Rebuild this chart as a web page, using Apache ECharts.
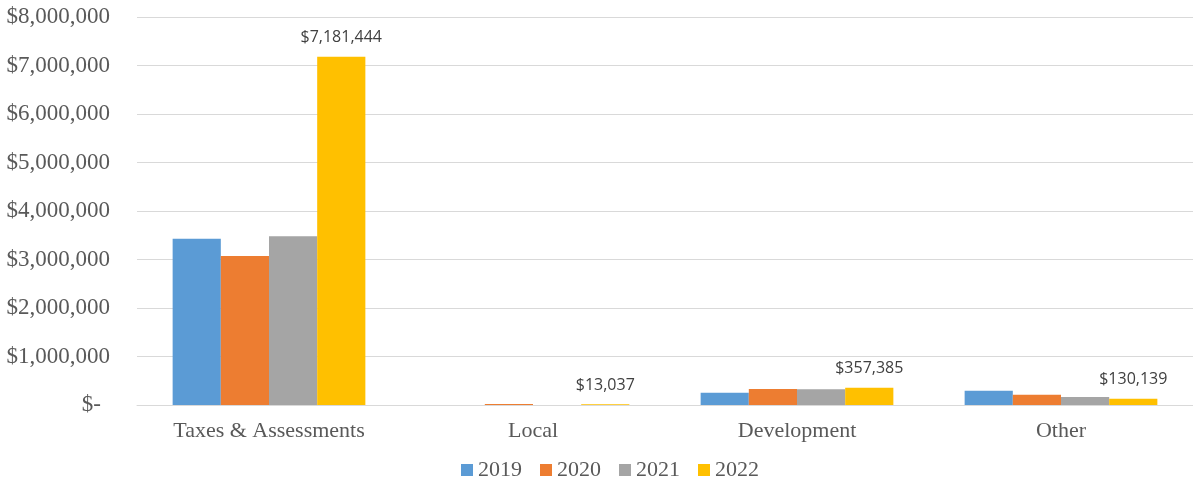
<!DOCTYPE html>
<html>
<head>
<meta charset="utf-8">
<script src="https://cdn.jsdelivr.net/npm/echarts@6/dist/echarts.min.js"></script>
<style>
	html, body { margin: 0; padding: 0; background: #fff; }
	#chart { width: 1193px; height: 487px; }
</style>
</head>
<body>
<div id="chart"></div>
<script>
// chart data
var categories = ['Taxes & Assessments', 'Local', 'Development', 'Other'];
var years = ['2019', '2020', '2021', '2022'];
var v2019 = [3430000, 0, 255000, 295000];
var v2020 = [3070000, 20000, 330000, 210000];
var v2021 = [3480000, 0, 325000, 165000];
var v2022 = [7181444, 13037, 357385, 130139];
var colors = ['#5b9bd5', '#ed7d31', '#a5a5a5', '#ffc000'];

function money(v) {
	return '$' + Math.round(v).toString().replace(/\B(?=(\d{3})+(?!\d))/g, ',');
}

var chart = echarts.init(document.getElementById('chart'));
var allValues = [v2019, v2020, v2021, v2022];
var series = [];
for (var i = 0; i < years.length; i++) {
	var s = {
		name: years[i],
		type: 'bar',
		barGap: 0,
		barCategoryGap: '27%',
		data: allValues[i],
		itemStyle: { color: colors[i] }
	};
	if (i == 3) {
		s.label = {
			show: true,
			position: 'top',
			distance: 11,
			fontFamily: 'Open Sans',
			fontSize: 16,
			color: '#404040',
			formatter: function (p) { return money(p.value); }
		};
	}
	series.push(s);
}

var option = {
	animation: false,
	color: colors,
	grid: { left: 137, right: 0, top: 17, bottom: 82 },
	legend: {
		data: years,
		bottom: 1,
		left: 456,
		itemWidth: 12,
		itemHeight: 12,
		itemGap: 18,
		icon: 'rect',
		textStyle: { fontFamily: 'Liberation Serif', fontSize: 22, color: '#595959' }
	},
	xAxis: {
		type: 'category',
		data: categories,
		axisLine: { lineStyle: { color: '#d9d9d9', width: 1 } },
		axisTick: { show: false },
		axisLabel: { fontFamily: 'Liberation Serif', fontSize: 22, color: '#595959', margin: 15 }
	},
	yAxis: {
		type: 'value',
		min: 0,
		max: 8000000,
		interval: 1000000,
		axisLine: { show: false },
		axisTick: { show: false },
		splitLine: { lineStyle: { color: '#d9d9d9', width: 1 } },
		axisLabel: {
			fontFamily: 'Liberation Serif',
			fontSize: 23,
			color: '#595959',
			margin: 27,
			formatter: function (v) { return v == 0 ? '{z|$-}' : money(v); },
			rich: {
				z: { fontFamily: 'Liberation Serif', fontSize: 23, color: '#595959', padding: [0, 9, 0, 0] }
			}
		}
	},
	series: series
};

chart.setOption(option);
</script>
</body>
</html>
